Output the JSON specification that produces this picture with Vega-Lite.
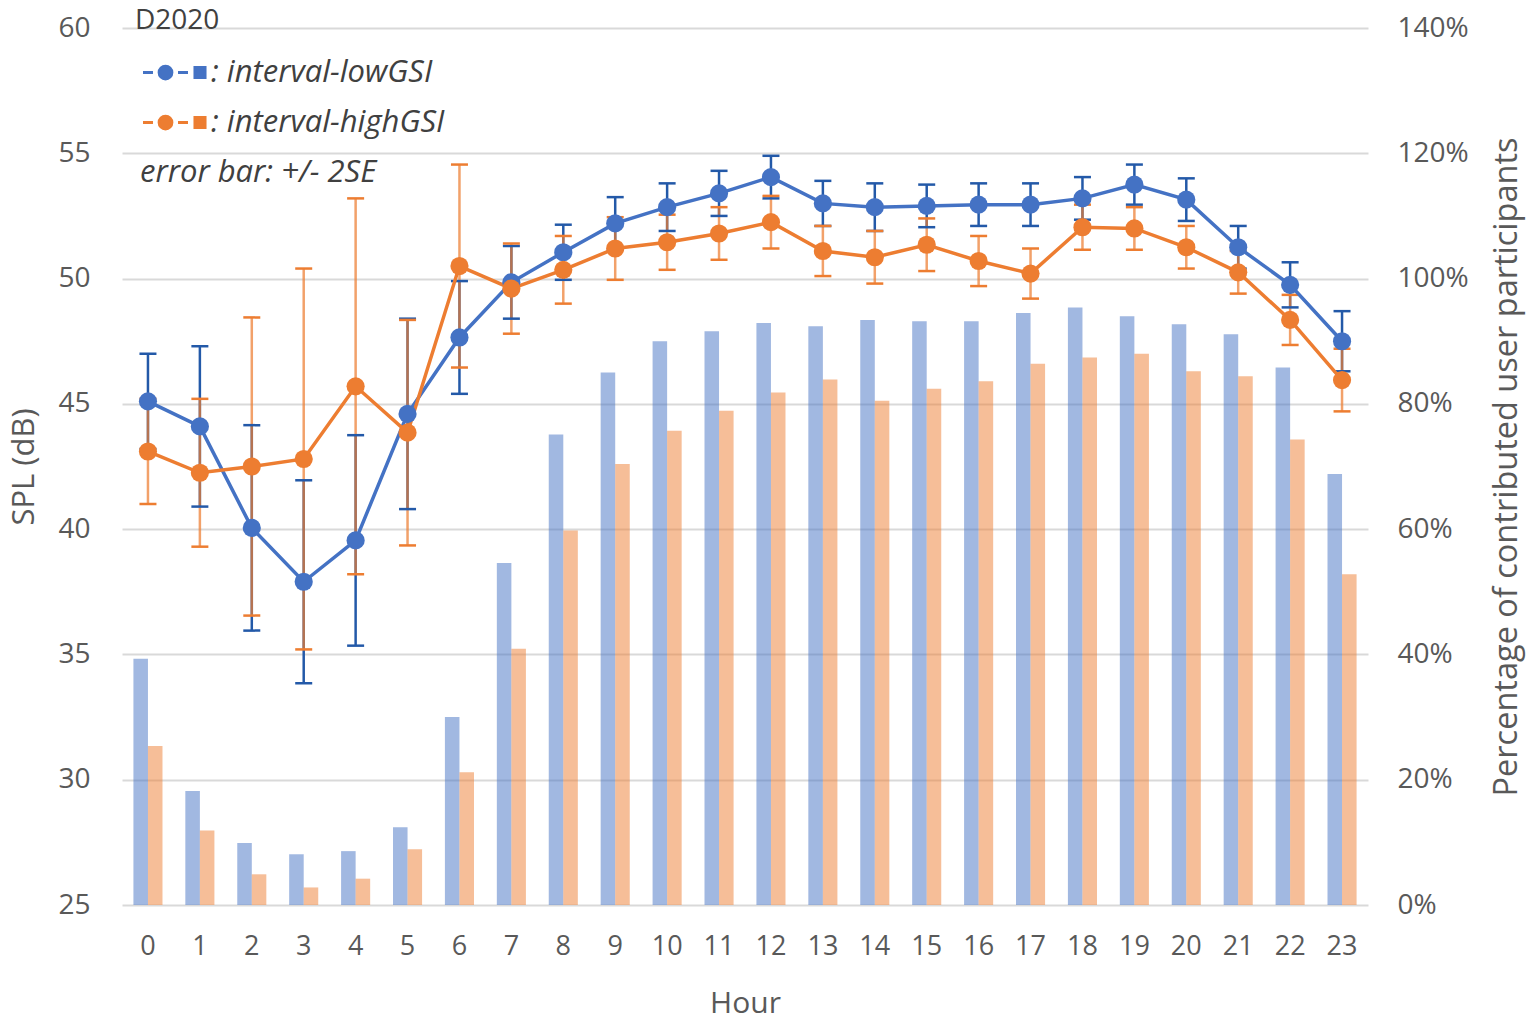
{
  "$schema": "https://vega.github.io/schema/vega-lite/v6.json",
  "width": 1246,
  "height": 877,
  "autosize": {"type": "none"},
  "padding": {"left": 122, "top": 28, "right": 167, "bottom": 120},
  "background": "white",
  "data": {
    "values": [
      {"hour": 0, "series": "interval-lowGSI", "spl": 45.1, "lo": 43.2, "hi": 47.0, "pct": 39.3},
      {"hour": 1, "series": "interval-lowGSI", "spl": 44.1, "lo": 40.9, "hi": 47.3, "pct": 18.2},
      {"hour": 2, "series": "interval-lowGSI", "spl": 40.05, "lo": 35.95, "hi": 44.15, "pct": 9.9},
      {"hour": 3, "series": "interval-lowGSI", "spl": 37.9, "lo": 33.85, "hi": 41.95, "pct": 8.1},
      {"hour": 4, "series": "interval-lowGSI", "spl": 39.55, "lo": 35.35, "hi": 43.75, "pct": 8.6},
      {"hour": 5, "series": "interval-lowGSI", "spl": 44.6, "lo": 40.8, "hi": 48.4, "pct": 12.4},
      {"hour": 6, "series": "interval-lowGSI", "spl": 47.65, "lo": 45.4, "hi": 49.9, "pct": 30.0},
      {"hour": 7, "series": "interval-lowGSI", "spl": 49.85, "lo": 48.4, "hi": 51.3, "pct": 54.6},
      {"hour": 8, "series": "interval-lowGSI", "spl": 51.05, "lo": 49.95, "hi": 52.15, "pct": 75.1},
      {"hour": 9, "series": "interval-lowGSI", "spl": 52.2, "lo": 51.15, "hi": 53.25, "pct": 85.0},
      {"hour": 10, "series": "interval-lowGSI", "spl": 52.85, "lo": 51.9, "hi": 53.8, "pct": 90.0},
      {"hour": 11, "series": "interval-lowGSI", "spl": 53.4, "lo": 52.5, "hi": 54.3, "pct": 91.6},
      {"hour": 12, "series": "interval-lowGSI", "spl": 54.05, "lo": 53.2, "hi": 54.9, "pct": 92.9},
      {"hour": 13, "series": "interval-lowGSI", "spl": 53.0, "lo": 52.1, "hi": 53.9, "pct": 92.4},
      {"hour": 14, "series": "interval-lowGSI", "spl": 52.85, "lo": 51.9, "hi": 53.8, "pct": 93.4},
      {"hour": 15, "series": "interval-lowGSI", "spl": 52.9, "lo": 52.05, "hi": 53.75, "pct": 93.2},
      {"hour": 16, "series": "interval-lowGSI", "spl": 52.95, "lo": 52.1, "hi": 53.8, "pct": 93.2},
      {"hour": 17, "series": "interval-lowGSI", "spl": 52.95, "lo": 52.1, "hi": 53.8, "pct": 94.5},
      {"hour": 18, "series": "interval-lowGSI", "spl": 53.2, "lo": 52.35, "hi": 54.05, "pct": 95.4},
      {"hour": 19, "series": "interval-lowGSI", "spl": 53.75, "lo": 52.95, "hi": 54.55, "pct": 94.0},
      {"hour": 20, "series": "interval-lowGSI", "spl": 53.15, "lo": 52.3, "hi": 54.0, "pct": 92.7},
      {"hour": 21, "series": "interval-lowGSI", "spl": 51.25, "lo": 50.4, "hi": 52.1, "pct": 91.1},
      {"hour": 22, "series": "interval-lowGSI", "spl": 49.75, "lo": 48.85, "hi": 50.65, "pct": 85.8},
      {"hour": 23, "series": "interval-lowGSI", "spl": 47.5, "lo": 46.3, "hi": 48.7, "pct": 68.8},
      {"hour": 0, "series": "interval-highGSI", "spl": 43.1, "lo": 41.0, "hi": 45.2, "pct": 25.4},
      {"hour": 1, "series": "interval-highGSI", "spl": 42.25, "lo": 39.3, "hi": 45.2, "pct": 11.9},
      {"hour": 2, "series": "interval-highGSI", "spl": 42.5, "lo": 36.55, "hi": 48.45, "pct": 4.9},
      {"hour": 3, "series": "interval-highGSI", "spl": 42.8, "lo": 35.2, "hi": 50.4, "pct": 2.8},
      {"hour": 4, "series": "interval-highGSI", "spl": 45.7, "lo": 38.2, "hi": 53.2, "pct": 4.2},
      {"hour": 5, "series": "interval-highGSI", "spl": 43.85, "lo": 39.35, "hi": 48.35, "pct": 8.9},
      {"hour": 6, "series": "interval-highGSI", "spl": 50.5, "lo": 46.45, "hi": 54.55, "pct": 21.2},
      {"hour": 7, "series": "interval-highGSI", "spl": 49.6, "lo": 47.8, "hi": 51.4, "pct": 40.9},
      {"hour": 8, "series": "interval-highGSI", "spl": 50.35, "lo": 49.0, "hi": 51.7, "pct": 59.8},
      {"hour": 9, "series": "interval-highGSI", "spl": 51.2, "lo": 49.95, "hi": 52.45, "pct": 70.4},
      {"hour": 10, "series": "interval-highGSI", "spl": 51.45, "lo": 50.35, "hi": 52.55, "pct": 75.7},
      {"hour": 11, "series": "interval-highGSI", "spl": 51.8, "lo": 50.75, "hi": 52.85, "pct": 78.9},
      {"hour": 12, "series": "interval-highGSI", "spl": 52.25, "lo": 51.2, "hi": 53.3, "pct": 81.8},
      {"hour": 13, "series": "interval-highGSI", "spl": 51.1, "lo": 50.1, "hi": 52.1, "pct": 83.9},
      {"hour": 14, "series": "interval-highGSI", "spl": 50.85, "lo": 49.8, "hi": 51.9, "pct": 80.5},
      {"hour": 15, "series": "interval-highGSI", "spl": 51.35, "lo": 50.3, "hi": 52.4, "pct": 82.4},
      {"hour": 16, "series": "interval-highGSI", "spl": 50.7, "lo": 49.7, "hi": 51.7, "pct": 83.6},
      {"hour": 17, "series": "interval-highGSI", "spl": 50.2, "lo": 49.2, "hi": 51.2, "pct": 86.4},
      {"hour": 18, "series": "interval-highGSI", "spl": 52.05, "lo": 51.15, "hi": 52.95, "pct": 87.4},
      {"hour": 19, "series": "interval-highGSI", "spl": 52.0, "lo": 51.15, "hi": 52.85, "pct": 88.0},
      {"hour": 20, "series": "interval-highGSI", "spl": 51.25, "lo": 50.4, "hi": 52.1, "pct": 85.2},
      {"hour": 21, "series": "interval-highGSI", "spl": 50.25, "lo": 49.4, "hi": 51.1, "pct": 84.4},
      {"hour": 22, "series": "interval-highGSI", "spl": 48.35, "lo": 47.35, "hi": 49.35, "pct": 74.3},
      {"hour": 23, "series": "interval-highGSI", "spl": 45.95, "lo": 44.7, "hi": 47.2, "pct": 52.8}
    ]
  },
  "layer": [
    {
      "mark": {"type": "bar", "opacity": 0.5},
      "encoding": {
        "x": {
          "field": "hour",
          "type": "ordinal",
          "title": "Hour",
          "scale": {"paddingInner": 0.44, "paddingOuter": 0.22},
          "axis": {
            "labelAngle": 0,
            "ticks": false,
            "domain": false,
            "grid": false,
            "labelPadding": 28,
            "titlePadding": 29
          }
        },
        "xOffset": {
          "field": "series",
          "scale": {"domain": ["interval-lowGSI", "interval-highGSI"], "paddingInner": 0, "paddingOuter": 0}
        },
        "y": {
          "field": "pct",
          "type": "quantitative",
          "title": "Percentage of contributed user participants",
          "scale": {"domain": [0, 140]},
          "axis": {
            "orient": "right",
            "values": [0, 20, 40, 60, 80, 100, 120, 140],
            "labelExpr": "datum.value + '%'",
            "labelFontSize": 28,
            "grid": false,
            "ticks": false,
            "domain": false,
            "labelPadding": 29,
            "titleAngle": 270,
            "titleBaseline": "top",
            "titleFontSize": 32.5,
            "titlePadding": 22
          }
        },
        "color": {
          "field": "series",
          "type": "nominal",
          "scale": {
            "domain": ["interval-lowGSI", "interval-highGSI", "error bar: +/- 2SE"],
            "range": ["#4472C4", "#ED7D31", "#ffffff"]
          },
          "legend": {
            "orient": "none",
            "legendX": 13,
            "legendY": -21,
            "direction": "vertical",
            "padding": 0,
            "title": "D2020",
            "titleFont": "Open Sans",
            "titleFontSize": 28,
            "titleFontWeight": "normal",
            "titleColor": "#404040",
            "titlePadding": 22,
            "labelFont": "Open Sans",
            "labelFontSize": 31,
            "labelFontStyle": "italic",
            "labelColor": "#404040",
            "labelLimit": 0,
            "labelOffset": 45,
            "rowPadding": 18,
            "symbolType": "M-1,0H0.33M1.15,0A0.85,0.85 0 1 1 2.85,0A0.85,0.85 0 1 1 1.15,0ZM3.67,0H5M5.93,-0.67H7.27V0.67H5.93Z",
            "symbolSize": 225,
            "symbolStrokeWidth": 3,
            "symbolOpacity": 1,
            "labelExpr": "datum.value == 'error bar: +/- 2SE' ? datum.label : ': ' + datum.label",
            "encode": {
              "symbols": {
                "update": {
                  "fill": [
                    {"test": "datum.value == 'interval-lowGSI'", "value": "#4472C4"},
                    {"test": "datum.value == 'interval-highGSI'", "value": "#ED7D31"},
                    {"value": "transparent"}
                  ],
                  "stroke": [
                    {"test": "datum.value == 'interval-lowGSI'", "value": "#4472C4"},
                    {"test": "datum.value == 'interval-highGSI'", "value": "#ED7D31"},
                    {"value": "transparent"}
                  ],
                  "opacity": {"value": 1}
                }
              },
              "labels": {
                "update": {
                  "dx": [
                    {"test": "datum.value == 'error bar: +/- 2SE'", "value": -71},
                    {"value": 0}
                  ]
                }
              }
            }
          }
        }
      }
    },
    {
      "layer": [
        {
          "mark": {"type": "rule", "strokeWidth": 2.5},
          "encoding": {
            "y": {
              "field": "lo",
              "type": "quantitative",
              "title": "SPL (dB)",
              "scale": {"domain": [25, 60]},
              "axis": {
                "orient": "left",
                "values": [25, 30, 35, 40, 45, 50, 55, 60],
                "labelFontSize": 28,
                "titleFontSize": 31,
                "grid": true,
                "ticks": false,
                "domain": false,
                "labelPadding": 32,
                "titlePadding": 17
              }
            },
            "y2": {"field": "hi"},
            "color": {
              "condition": {"test": "datum.series == 'interval-highGSI'", "value": "#ED7D31"},
              "value": "#2359A8"
            },
            "opacity": {
              "condition": {"test": "datum.series == 'interval-highGSI'", "value": 0.72},
              "value": 1
            }
          }
        },
        {
          "mark": {"type": "tick", "thickness": 2.5, "size": 17},
          "encoding": {
            "y": {"field": "lo", "type": "quantitative", "title": "SPL (dB)", "scale": {"domain": [25, 60]}},
            "color": {
              "condition": {"test": "datum.series == 'interval-highGSI'", "value": "#ED7D31"},
              "value": "#2359A8"
            },
            "opacity": {"value": 1}
          }
        },
        {
          "mark": {"type": "tick", "thickness": 2.5, "size": 17},
          "encoding": {
            "y": {"field": "hi", "type": "quantitative", "title": "SPL (dB)", "scale": {"domain": [25, 60]}},
            "color": {
              "condition": {"test": "datum.series == 'interval-highGSI'", "value": "#ED7D31"},
              "value": "#2359A8"
            },
            "opacity": {"value": 1}
          }
        },
        {
          "mark": {"type": "line", "strokeWidth": 3.5},
          "encoding": {
            "y": {"field": "spl", "type": "quantitative", "title": "SPL (dB)", "scale": {"domain": [25, 60]}},
            "color": {"field": "series", "type": "nominal"},
            "detail": {"field": "series"}
          }
        },
        {
          "mark": {"type": "point", "filled": true, "opacity": 1, "size": 330},
          "encoding": {
            "y": {"field": "spl", "type": "quantitative", "title": "SPL (dB)", "scale": {"domain": [25, 60]}},
            "color": {"field": "series", "type": "nominal"}
          }
        }
      ],
      "encoding": {
        "x": {"field": "hour", "type": "ordinal", "title": "Hour"}
      }
    }
  ],
  "resolve": {"scale": {"y": "independent"}},
  "config": {
    "view": {"stroke": null},
    "font": "Open Sans",
    "axis": {
      "labelFont": "Open Sans",
      "labelFontSize": 27,
      "labelColor": "#595959",
      "titleFont": "Open Sans",
      "titleFontSize": 30,
      "titleFontWeight": "normal",
      "titleColor": "#595959",
      "gridColor": "#D9D9D9",
      "gridWidth": 2
    }
  }
}
